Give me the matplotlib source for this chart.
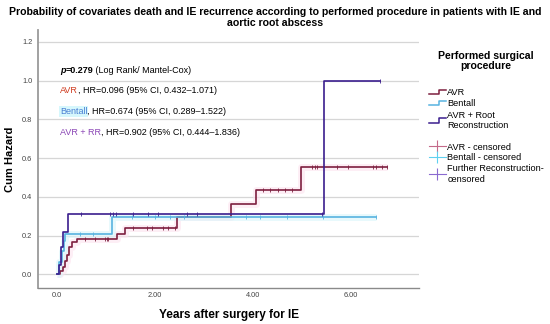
import matplotlib
matplotlib.use('Agg')
import matplotlib.pyplot as plt
import numpy as np
from matplotlib.lines import Line2D
from matplotlib.legend_handler import HandlerBase

plt.rcParams['font.family'] = ['Liberation Sans', 'DejaVu Sans']

# step curves (time in years, cumulative hazard)
avr_t = [0, 0.06, 0.12, 0.16, 0.20, 0.24, 0.30, 0.41, 1.22, 1.39, 2.44, 3.56, 4.06, 4.98]
avr_h = [0, 0.02, 0.04, 0.07, 0.10, 0.14, 0.165, 0.184, 0.21, 0.24, 0.296, 0.365, 0.434, 0.555]
avr_end = 6.73
avr_cens_t = [0.57, 0.78, 0.98, 1.01, 1.05, 1.56, 1.83, 1.93, 2.17, 2.27, 2.41,
              4.20, 4.35, 4.52, 4.65, 4.79, 5.20, 5.27, 5.31, 5.72, 5.93, 6.44, 6.52, 6.63, 6.73]
avr_cens_h = [0.184, 0.184, 0.184, 0.184, 0.184, 0.24, 0.24, 0.24, 0.24, 0.24, 0.24,
              0.434, 0.434, 0.434, 0.434, 0.434, 0.555, 0.555, 0.555, 0.555, 0.555, 0.555, 0.555, 0.555, 0.555]

ben_t = [0, 0.04, 0.10, 0.14, 0.17, 1.12]
ben_h = [0, 0.065, 0.12, 0.17, 0.21, 0.296]
ben_end = 6.52
ben_cens_t = [0.47, 0.74, 1.52, 2.0, 2.3, 2.6, 3.86, 4.14, 4.69, 5.42, 6.52]
ben_cens_h = [0.21, 0.21, 0.296, 0.296, 0.296, 0.296, 0.296, 0.296, 0.296, 0.296, 0.296]

rr_t = [0, 0.03, 0.08, 0.13, 0.22, 5.44]
rr_h = [0, 0.05, 0.14, 0.22, 0.31, 1.0]
rr_end = 6.59
rr_cens_t = [0.48, 1.08, 1.14, 1.20, 1.55, 1.86, 2.07, 2.65, 2.85, 5.40, 6.59]
rr_cens_h = [0.31, 0.31, 0.31, 0.31, 0.31, 0.31, 0.31, 0.31, 0.31, 0.31, 1.0]

yticks = [0.0, 0.2, 0.4, 0.6, 0.8, 1.0, 1.2]
ytick_labels = ['0.0', '0.2', '0.4', '0.6', '0.8', '1.0', '1.2']
xticks = [0, 2, 4, 6]
xtick_labels = ['0.0', '2.00', '4.00', '6.00']

c_avr = '#7d1f3f'
c_ben = '#57b3e0'
c_rr = '#3b1e8e'

fig = plt.figure(figsize=(5.5, 3.24), dpi=100)
ax = fig.add_axes([0.069, 0.111, 0.693, 0.796])


def draw(t, h, end, color, glow):
    tt = np.append(t, end)
    hh = np.append(h, h[-1])
    if glow:
        ax.step(tt, hh, where='post', color=glow, lw=5, alpha=0.6, zorder=1, solid_capstyle='butt')
    ax.step(tt, hh, where='post', color=color, lw=1.2, zorder=3)


draw(avr_t, avr_h, avr_end, c_avr, '#fde3ef')
draw(ben_t, ben_h, ben_end, c_ben, '#d9f6fb')
draw(rr_t, rr_h, rr_end, c_rr, None)
ax.plot(avr_cens_t, avr_cens_h, ls='none', marker='|', ms=3.5, mew=0.6, color=c_avr, zorder=4)
ax.plot(ben_cens_t, ben_cens_h, ls='none', marker='|', ms=3.5, mew=0.6, color=c_ben, zorder=4)
ax.plot(rr_cens_t, rr_cens_h, ls='none', marker='|', ms=3.5, mew=0.6, color=c_rr, zorder=4)

ax.set_xlim(-0.39, 7.39)
ax.set_ylim(-0.07, 1.26)
ax.set_yticks(yticks)
ax.set_yticklabels(ytick_labels)
ax.set_xticks(xticks)
ax.set_xticklabels(xtick_labels)
ax.tick_params(length=0, labelsize=5.3, labelcolor='#444444')
ax.tick_params(axis='y', pad=4)
ax.tick_params(axis='x', pad=3)
ax.grid(axis='y', color='#d6d6d6', lw=0.9)
ax.set_axisbelow(True)
for s in ['top', 'right']:
    ax.spines[s].set_visible(False)
ax.spines['left'].set_color('#9a9a9a')
ax.spines['left'].set_linewidth(1.3)
ax.spines['bottom'].set_color('#8a8a8a')
ax.spines['bottom'].set_linewidth(1.0)

ax.set_ylabel('Cum Hazard', fontsize=8, fontweight='bold', labelpad=5)
ax.set_xlabel('Years after surgery for IE', fontsize=8.5, fontweight='bold', labelpad=7)

fig.suptitle('Probability of covariates death and IE recurrence according to performed procedure in patients with IE and\naortic root abscess',
             fontsize=7.6, fontweight='bold', y=0.978, linespacing=1.1)

# annotations
fs = 6.5
t1 = ax.text(0.06, 1.054, 'p', fontsize=fs, fontweight='bold', style='italic', va='center')
t2 = ax.annotate('=0.279', xy=(1, 0), xycoords=t1, fontsize=fs, fontweight='bold', va='bottom')
ax.annotate(' (Log Rank/ Mantel-Cox)', xy=(1, 0), xycoords=t2, fontsize=fs, va='bottom')

a1 = ax.text(0.06, 0.947, 'AVR', fontsize=fs, color='#cf3b1f', va='center')
ax.annotate(', HR=0.096 (95% CI, 0.432\u20131.071)', xy=(1, 0), xycoords=a1, fontsize=fs, va='bottom')
b1 = ax.text(0.06, 0.839, 'Bentall', fontsize=fs, color='#4a7fd4', va='center',
             bbox=dict(boxstyle='square,pad=0.1', fc='#d6f7fc', ec='none'))
ax.annotate(', HR=0.674 (95% CI, 0.289\u20131.522)', xy=(1, 0), xycoords=b1, fontsize=fs, va='bottom')
r1 = ax.text(0.06, 0.730, 'AVR + RR', fontsize=fs, color='#8a45b5', va='center')
ax.annotate(', HR=0.902 (95% CI, 0.444\u20131.836)', xy=(1, 0), xycoords=r1, fontsize=fs, va='bottom')


class StepHandler(HandlerBase):
    def create_artists(self, legend, orig_handle, xdescent, ydescent, width, height, fontsize, trans):
        x = np.array([0, 0.6, 0.6, 1.0]) * width - xdescent
        y = np.array([0.15, 0.15, 0.85, 0.85]) * height - ydescent
        ln = Line2D(x, y, color=orig_handle.get_color(), lw=1.1)
        ln.set_transform(trans)
        return [ln]


fig.text(0.884, 0.812, 'Performed surgical\nprocedure', ha='center', va='center',
         fontsize=7.6, fontweight='bold', linespacing=1.1)

h_avr = Line2D([0], [0], color=c_avr)
h_ben = Line2D([0], [0], color=c_ben)
h_rr = Line2D([0], [0], color=c_rr)
leg1 = fig.legend([h_avr, h_ben, h_rr], ['AVR', 'Bentall', 'AVR + Root\nReconstruction'],
                  handler_map={Line2D: StepHandler()}, loc='upper left',
                  bbox_to_anchor=(0.78, 0.728), frameon=False, fontsize=6.6,
                  handlelength=1.8, handletextpad=0.2, labelspacing=0.25,
                  borderaxespad=0, borderpad=0)

c_h1 = Line2D([0], [0], color='#c46a8a', lw=0.8, marker='|', ms=8, mew=0.8)
c_h2 = Line2D([0], [0], color='#5fd0f0', lw=0.8, marker='|', ms=8, mew=0.8)
c_h3 = Line2D([0], [0], color='#8a6ad0', lw=0.8, marker='|', ms=8, mew=0.8)
leg2 = fig.legend([c_h1, c_h2, c_h3], ['AVR - censored', 'Bentall - censored', 'Further Reconstruction-\ncensored'],
                  loc='upper left', bbox_to_anchor=(0.78, 0.56), frameon=False, fontsize=6.6,
                  handlelength=1.8, handletextpad=0.2, labelspacing=0.2, numpoints=1,
                  borderaxespad=0, borderpad=0)

fig.savefig('out.png', dpi=100)
